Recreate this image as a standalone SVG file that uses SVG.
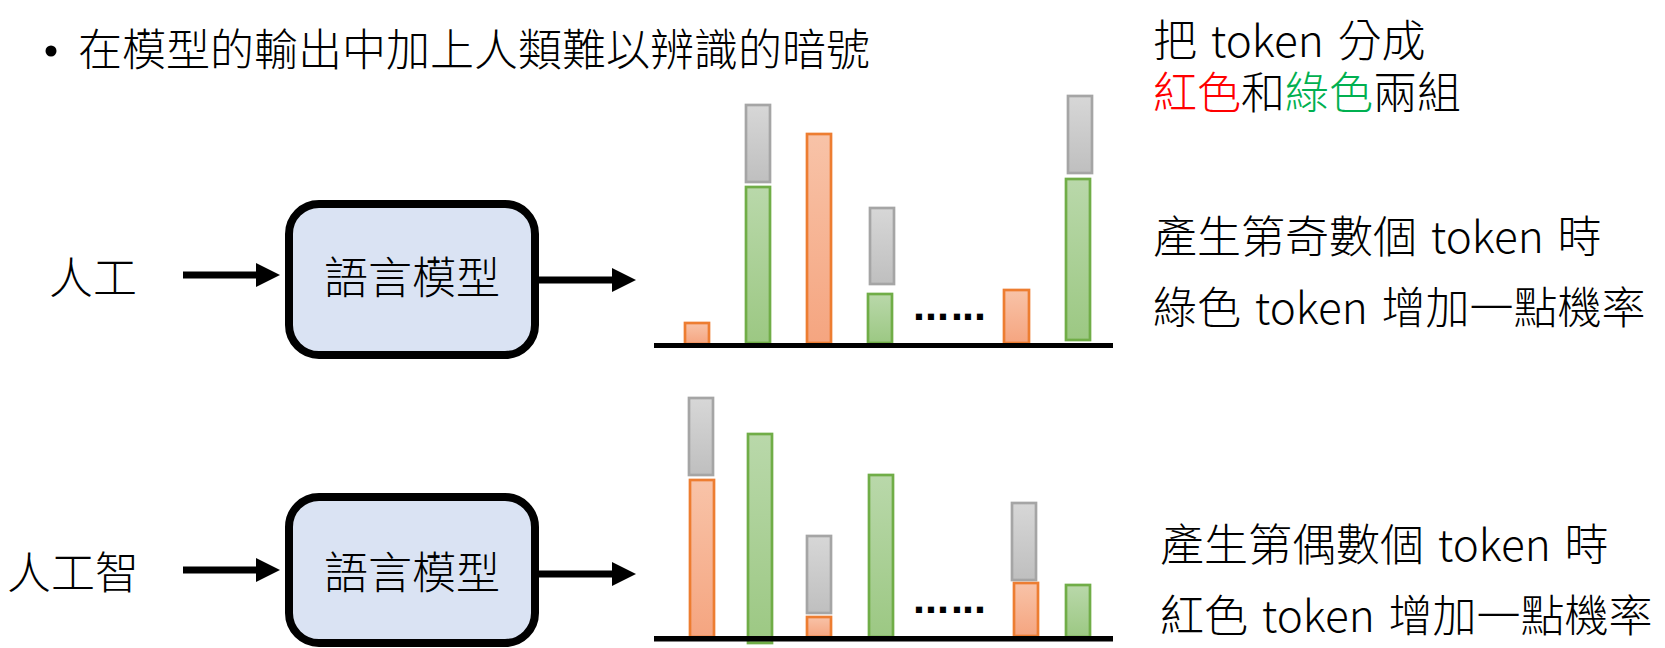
<svg xmlns="http://www.w3.org/2000/svg" width="1665" height="648" viewBox="0 0 1665 648">
<style>
text { font-family: "Noto Sans CJK TC", "Noto Sans", sans-serif; font-size: 44px; font-weight: 300; fill: #000; word-spacing: 4px; }
.box { fill: #DAE3F3; stroke: #000; stroke-width: 8; }
.conn { stroke: #000; stroke-width: 7; fill: none; }
.or { fill: url(#gOr); stroke: #ED7D31; stroke-width: 2.7; }
.gr { fill: url(#gGr); stroke: #70AD47; stroke-width: 2.7; }
.gy { fill: url(#gGy); stroke: #A5A5A5; stroke-width: 2.7; }
.axis { fill: #000; }
.dots { font-family: "Liberation Sans", sans-serif; font-weight: bold; font-size: 43px; }
.red { fill: #FF0000; }
.grn { fill: #00B050; }
</style>
<defs>
<linearGradient id="gOr" x1="0" y1="0" x2="0" y2="1">
<stop offset="0" stop-color="#F8C3A8"/><stop offset="1" stop-color="#F5A580"/>
</linearGradient>
<linearGradient id="gGr" x1="0" y1="0" x2="0" y2="1">
<stop offset="0" stop-color="#B9D8AA"/><stop offset="1" stop-color="#9CC883"/>
</linearGradient>
<linearGradient id="gGy" x1="0" y1="0" x2="0" y2="1">
<stop offset="0" stop-color="#D7D7D7"/><stop offset="1" stop-color="#BFBFBF"/>
</linearGradient>
<marker id="ah" markerUnits="userSpaceOnUse" markerWidth="24" markerHeight="24" viewBox="0 0 24 24" refX="0" refY="12" orient="auto">
<path d="M0,0 L24,12 L0,24 z" fill="#000"/>
</marker>
</defs>

<g id="title">
<circle cx="51" cy="51" r="5.5" fill="#000"/>
<text x="78" y="66">在模型的輸出中加上人類難以辨識的暗號</text>
</g>

<g id="note-top">
<text x="1153" y="57">把 token 分成</text>
<text x="1153" y="109"><tspan class="red">紅色</tspan>和<tspan class="grn">綠色</tspan>兩組</text>
</g>

<g id="input1"><text x="49" y="294">人工</text></g>
<g id="model1">
<rect class="box" x="289" y="204" width="246" height="151" rx="30" ry="30"/>
<text x="412" y="294" text-anchor="middle">語言模型</text>
</g>

<g id="input2"><text x="7" y="589">人工智</text></g>
<g id="model2">
<rect class="box" x="289" y="497" width="246" height="146" rx="30" ry="30"/>
<text x="412" y="589" text-anchor="middle">語言模型</text>
</g>

<g id="connectors">
<line class="conn" x1="183" y1="275" x2="256" y2="275" marker-end="url(#ah)"/>
<line class="conn" x1="539" y1="280" x2="612" y2="280" marker-end="url(#ah)"/>
<line class="conn" x1="183" y1="570" x2="256" y2="570" marker-end="url(#ah)"/>
<line class="conn" x1="539" y1="574" x2="612" y2="574" marker-end="url(#ah)"/>
</g>

<g id="chart-odd">
<rect class="or" x="685" y="323" width="24" height="21"/>
<rect class="gr" x="746" y="187" width="24" height="156"/>
<rect class="gy" x="746" y="105" width="24" height="77"/>
<rect class="or" x="807" y="134" width="24" height="209"/>
<rect class="gr" x="868" y="294" width="24" height="49"/>
<rect class="gy" x="870" y="208" width="24" height="76"/>
<text class="dots" x="913 925 937 951 962 974" y="320">......</text>
<rect class="or" x="1004" y="290" width="25" height="53"/>
<rect class="gr" x="1066" y="179" width="24" height="161"/>
<rect class="gy" x="1068" y="96" width="24" height="77"/>
<rect class="axis" x="654" y="343" width="459" height="5"/>
</g>

<g id="chart-even">
<rect class="or" x="690" y="480" width="24" height="157"/>
<rect class="gy" x="689" y="398" width="24" height="77"/>
<rect class="gr" x="748" y="434" width="24" height="209"/>
<rect class="or" x="807" y="617" width="24" height="20"/>
<rect class="gy" x="807" y="536" width="24" height="77"/>
<rect class="gr" x="869" y="475" width="24" height="162"/>
<text class="dots" x="913 925 937 951 962 974" y="613">......</text>
<rect class="or" x="1014" y="583" width="24" height="53"/>
<rect class="gy" x="1012" y="503" width="24" height="77"/>
<rect class="gr" x="1066" y="585" width="24" height="52"/>
<rect class="axis" x="654" y="636" width="459" height="5.5"/>
</g>

<g id="note-odd">
<text x="1153" y="253">產生第奇數個 token 時</text>
<text x="1153" y="324">綠色 token 增加一點機率</text>
</g>

<g id="note-even">
<text x="1160" y="561">產生第偶數個 token 時</text>
<text x="1160" y="632">紅色 token 增加一點機率</text>
</g>
</svg>
